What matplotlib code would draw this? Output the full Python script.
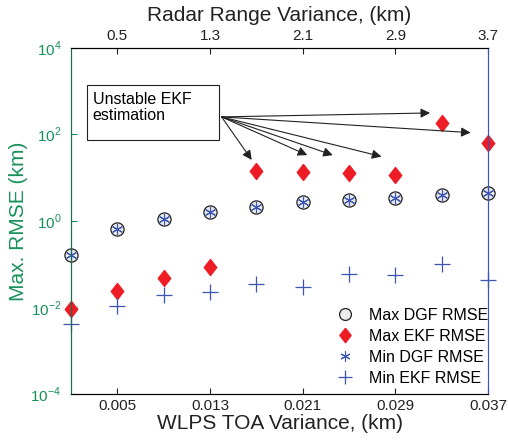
import matplotlib
matplotlib.use('Agg')
import matplotlib.pyplot as plt
from matplotlib.patches import Rectangle

plt.rcParams['font.family'] = ['Liberation Sans', 'DejaVu Sans']
plt.rcParams['mathtext.fontset'] = 'custom'
plt.rcParams['mathtext.rm'] = 'Liberation Sans'

# data
toa_var = [0.001, 0.005, 0.009, 0.013, 0.017, 0.021, 0.025, 0.029, 0.033, 0.037]
max_dgf = [0.16, 0.64, 1.1, 1.6, 2.1, 2.75, 3.05, 3.4, 4.0, 4.4]
min_dgf = [0.16, 0.64, 1.1, 1.6, 2.1, 2.75, 3.05, 3.4, 4.0, 4.4]
max_ekf = [0.0091, 0.024, 0.048, 0.087, 14, 13.8, 12.6, 11.5, 183, 62]
min_ekf = [0.0041, 0.011, 0.0195, 0.023, 0.035, 0.030, 0.059, 0.055, 0.10, 0.043]

bottom_ticks = [0.005, 0.013, 0.021, 0.029, 0.037]
top_ticks = [0.5, 1.3, 2.1, 2.9, 3.7]
top_labels = ['0.5', '1.3', '2.1', '2.9', '3.7']

# arrow tips of the annotation (data coords)
arrow_start = (0.0140, 252)
arrow_tips = [(0.0166, 25.6), (0.0214, 33), (0.0236, 33), (0.0278, 30.6),
              (0.032, 311), (0.0355, 109)]

green = '#17915a'
blue = '#3a55b4'
red = '#ee1c25'
diamond = [(0, 1), (0.78, 0), (0, -1), (-0.78, 0), (0, 1)]

fig = plt.figure(figsize=(5.08, 4.4), dpi=100)
ax = fig.add_axes([0.1398, 0.1045, 0.8208, 0.7871])

ax.plot(toa_var, max_dgf, 'o', ls='none', mfc='#ececec', mec='#222222', mew=0.9, ms=9.5,
        clip_on=False, label='Max DGF RMSE')
ax.plot(toa_var, max_ekf, ls='none', marker=diamond, color=red, ms=11.5,
        clip_on=False, label='Max EKF RMSE')
ax.plot(toa_var, min_dgf, ls='none', marker=(6, 2, 0), color=blue, ms=8, mew=0.8,
        clip_on=False, label='Min DGF RMSE')
ax.plot(toa_var, min_ekf, '+', ls='none', color=blue, ms=11, mew=0.9,
        clip_on=False, label='Min EKF RMSE')

ax.set_yscale('log')
ax.set_ylim(1e-4, 1e4)
ax.set_xlim(0.001, 0.037)
ax.set_yticks([1e-4, 1e-2, 1e0, 1e2, 1e4])
ax.set_yticklabels(['$10^{-4}$', '$10^{-2}$', '$10^{0}$', '$10^{2}$', '$10^{4}$'])
ax.minorticks_off()
ax.set_xticks(bottom_ticks)
ax.set_xticklabels(['0.005', '0.013', '0.021', '0.029', '0.037'])
ax.tick_params(direction='in', length=4, labelsize=11)
ax.tick_params(axis='y', colors=green, labelsize=11, pad=7)
ax.tick_params(axis='x', colors='#222222')
ax.spines['left'].set_color('#1d6b50')
ax.spines['right'].set_color(blue)
ax.set_xlabel('WLPS TOA Variance, (km)', fontsize=15, color='#222222', labelpad=1)
ax.set_ylabel('Max. RMSE (km)', fontsize=15, color=green, labelpad=2)

ax2 = ax.twiny()
ax2.set_xlim(0.1, 3.7)
ax2.set_xticks(top_ticks)
ax2.set_xticklabels(top_labels)
ax2.tick_params(direction='in', length=4, labelsize=11, colors='#222222')
ax2.minorticks_off()
ax2.spines['left'].set_color('#1d6b50')
ax2.spines['right'].set_color(blue)
ax2.set_xlabel('Radar Range Variance, (km)', fontsize=15, color='#222222', labelpad=6)

for tip in arrow_tips:
    ax.annotate('', xy=tip, xytext=arrow_start,
                arrowprops=dict(arrowstyle='-|>', color='#222222', lw=0.8,
                                mutation_scale=14, shrinkA=0, shrinkB=0))
ax.add_patch(Rectangle((0.0384, 0.733), 0.317, 0.159, transform=ax.transAxes,
                       fc='white', ec='#222222', lw=0.8, zorder=5))
ax.text(0.052, 0.873, 'Unstable EKF\nestimation', transform=ax.transAxes,
        fontsize=11.5, va='top', ha='left', linespacing=1.1, zorder=6)

leg = ax.legend(loc='lower right', frameon=False, fontsize=11.5, handletextpad=0.5,
                labelspacing=0.38, markerscale=0.9, bbox_to_anchor=(1.035, -0.018))

fig.savefig('out.png', dpi=100)
